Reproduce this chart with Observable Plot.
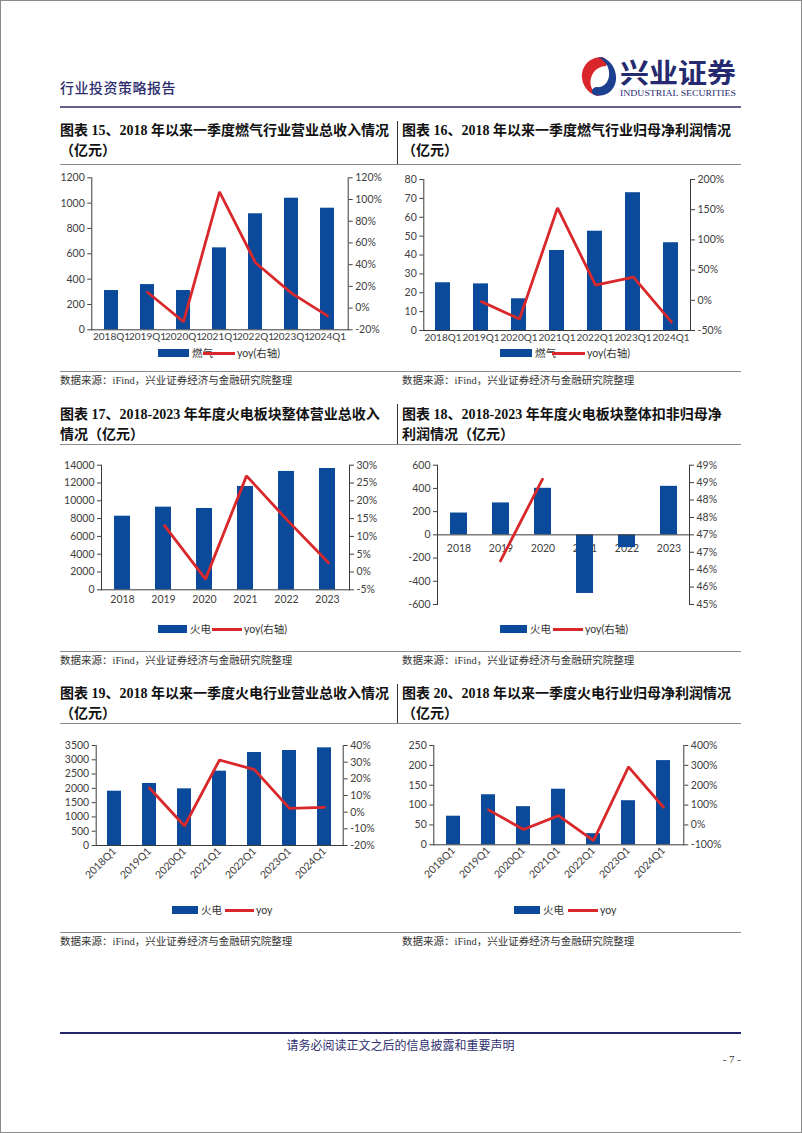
<!DOCTYPE html>
<html><head><meta charset="utf-8">
<script src="https://cdn.jsdelivr.net/npm/d3@7"></script>
<script src="https://cdn.jsdelivr.net/npm/@observablehq/plot@0.6"></script>
<style>
html,body{margin:0;padding:0;background:#fff;}
#page{position:relative;width:802px;height:1133px;overflow:hidden;font-family:"Noto Sans CJK SC",sans-serif;}
#border{position:absolute;left:0;top:0;width:802px;height:1133px;box-sizing:border-box;border:1px solid #8a8a8a;pointer-events:none;}
.hline{position:absolute;height:0;border-top:1px solid #8c8c8c;}
.vline{position:absolute;width:0;border-left:1px solid #333;}
.title{position:absolute;font-family:"Liberation Serif","Noto Sans CJK SC",serif;font-weight:700;font-size:14px;line-height:20px;color:#111;white-space:nowrap;}
.src{position:absolute;font-family:"Liberation Serif","Noto Sans CJK SC",serif;font-size:10.5px;line-height:14px;color:#333;white-space:nowrap;}
.chart{position:absolute;}
.chart svg{position:absolute;left:0;top:0;}
.lg{position:absolute;font-family:Lato,"Noto Sans CJK SC",sans-serif;font-size:10.5px;line-height:12px;color:#333;white-space:nowrap;}
.lgbar{position:absolute;height:8px;}
.lgline{position:absolute;height:3px;}
</style>
</head><body>
<div id="page"></div>
<script>
// ---------- data ----------
const quarters = ["2018Q1","2019Q1","2020Q1","2021Q1","2022Q1","2023Q1","2024Q1"];
const years = ["2018","2019","2020","2021","2022","2023"];

const gasRevenue = [310, 357, 310, 647, 916, 1039, 960];
const gasRevenueYoy = [null, 14.6, -12.6, 107, 41.8, 13.8, -7.2];

const gasProfit = [25.3, 24.7, 16.8, 42.4, 52.6, 73.0, 46.5];
const gasProfitYoy = [null, -2.2, -31, 153, 25, 38.5, -36];

const thermalRevenue = [8270, 9285, 9140, 11610, 13300, 13630];
const thermalRevenueYoy = [null, 13.0, -2.0, 27.0, 14.5, 2.6];

const thermalProfitAdj = [188, 275, 401, -505, -110, 418];
const thermalProfitAdjYoy = [null, 46.25, 48.6, null, null, null];

const thermalQRevenue = [1900, 2170, 1983, 2602, 3255, 3325, 3418];
const thermalQRevenueYoy = [null, 14.5, -8.3, 31.3, 25.5, 2.3, 2.9];

const thermalQProfit = [72, 126, 96, 140, 28, 111, 212];
const thermalQProfitYoy = [null, 76, -23, 47, -79, 292, 89];

const titles = [
  ["图表 15、2018 年以来一季度燃气行业营业总收入情况", "（亿元）"],
  ["图表 16、2018 年以来一季度燃气行业归母净利润情况", "（亿元）"],
  ["图表 17、2018-2023 年年度火电板块整体营业总收入", "情况（亿元）"],
  ["图表 18、2018-2023 年年度火电板块整体扣非归母净", "利润情况（亿元）"],
  ["图表 19、2018 年以来一季度火电行业营业总收入情况", "（亿元）"],
  ["图表 20、2018 年以来一季度火电行业归母净利润情况", "（亿元）"]
];
const sourceText = "数据来源：iFind，兴业证券经济与金融研究院整理";
const headerText = "行业投资策略报告";
const footerText = "请务必阅读正文之后的信息披露和重要声明";
const pageNo = "- 7 -";

// ---------- styles ----------
const BLUE = "#0b4a9a", RED = "#d8282b", AXIS = "#3a3a3a", TXT = "#404040";
const page = document.getElementById("page");

function el(tag, cls, css, html) {
  const e = document.createElement(tag);
  if (cls) e.className = cls;
  if (css) e.style.cssText = css;
  if (html != null) e.innerHTML = html;
  page.appendChild(e);
  return e;
}

// ---------- header ----------
el("div", null, "position:absolute;left:60px;top:78px;font-size:14px;line-height:18px;color:#2e2e6e;font-weight:500;letter-spacing:0.5px;", headerText);
el("div", null, "position:absolute;left:578px;top:52px;width:170px;height:50px;",
 `<svg width="170" height="50" xmlns="http://www.w3.org/2000/svg">
   <path d="M24 5 C10 5 3 16 4 26 C5 36 13 44 22 44 C14 40 11 33 13 26 C15 18 22 14 28 14 C30 10 28 6 24 5 Z" fill="#d8262b"/>
   <path d="M16 43 C30 46 39 36 38 24 C37 12 28 5 20 5 C28 9 32 16 31 24 C30 32 24 36 18 35 C14 36 12 40 16 43 Z" fill="#1d3f8f"/>
   <text x="42" y="31" font-family="'Noto Sans CJK SC',serif" font-weight="700" font-size="27" fill="#262a6e" textLength="116" lengthAdjust="spacingAndGlyphs">兴业证券</text>
   <text x="42" y="44" font-family="'Liberation Serif',serif" font-size="8" fill="#262a6e" textLength="116" lengthAdjust="spacingAndGlyphs">INDUSTRIAL SECURITIES</text>
 </svg>`);
el("div", null, "position:absolute;left:60px;top:106px;width:681px;height:2px;background:#62628a;");

// ---------- frame lines / titles / sources ----------
const rows = [
  {titleTop:121, titleLine:164, sepTop:121, srcLine:371, srcTop:374},
  {titleTop:405, titleLine:444, sepTop:404, srcLine:651, srcTop:654},
  {titleTop:684, titleLine:723, sepTop:684, srcLine:932, srcTop:935}
];
rows.forEach((r, i) => {
  el("div", "title", `left:60px;top:${r.titleTop}px;`, titles[2*i][0] + "<br>" + titles[2*i][1]);
  el("div", "title", `left:402px;top:${r.titleTop}px;`, titles[2*i+1][0] + "<br>" + titles[2*i+1][1]);
  el("div", "vline", `left:397px;top:${r.sepTop}px;height:${r.titleLine - r.sepTop}px;`);
  el("div", "hline", `left:60px;top:${r.titleLine}px;width:681px;`);
  el("div", "hline", `left:60px;top:${r.srcLine}px;width:681px;`);
  el("div", "src", `left:60px;top:${r.srcTop}px;`, sourceText);
  el("div", "src", `left:402px;top:${r.srcTop}px;`, sourceText);
});

// ---------- footer ----------
el("div", null, "position:absolute;left:60px;top:1032px;width:681px;height:2px;background:#24246a;");
el("div", null, "position:absolute;left:60px;width:681px;top:1038px;text-align:center;font-family:'Liberation Serif','Noto Sans CJK SC',serif;font-size:12px;line-height:16px;color:#2e2e6e;", footerText);
el("div", null, "position:absolute;left:700px;width:41px;top:1052px;text-align:right;font-family:'Liberation Serif',serif;font-size:11px;line-height:14px;color:#333;", pageNo);
el("div", null, "", "").id = "border";

// ---------- charts ----------
function range(a, b, s) { const r = []; for (let v = a; v <= b + 1e-9; v += s) r.push(+v.toFixed(4)); return r; }

function dualChart(cfg) {
  const {x0, y0, w, h, frame} = cfg;
  const m = {marginLeft: frame[0] - x0, marginTop: frame[1] - y0, marginRight: x0 + w - frame[2], marginBottom: y0 + h - frame[3]};
  const data = cfg.cats.map((c, i) => ({cat: c, v: cfg.bars[i], yoy: cfg.yoy[i] == null ? NaN : cfg.yoy[i]}));
  const style = {background: "transparent", overflow: "visible", fontFamily: "Lato, 'DejaVu Sans', sans-serif", fontSize: "10.5px", color: TXT};
  const box = el("div", "chart", `left:${x0}px;top:${y0}px;width:${w}px;height:${h}px;`);

  const barMarks = [];
  if (cfg.zeroLabels) barMarks.push(Plot.text(data, {x: "cat", y: () => 0, text: "cat", dy: 14, fill: TXT}));
  barMarks.push(Plot.barY(data, {x: "cat", y: "v", fill: BLUE}));
  barMarks.push(Plot.axisY({anchor: "left", label: null, ticks: cfg.leftTicks, tickFormat: d => String(d), tickSize: 4, tickPadding: 3}));
  if (cfg.zeroLabels) {
    barMarks.push(Plot.ruleY([0], {stroke: AXIS}));
  } else {
    barMarks.push(Plot.axisX({anchor: "bottom", label: null, tickSize: 0, tickPadding: cfg.rotate ? 4 : (cfg.xPad || 6), tickRotate: cfg.rotate ? -45 : 0, fontSize: cfg.xFont || undefined}));
    barMarks.push(Plot.frame({anchor: "bottom", stroke: AXIS}));
  }
  barMarks.push(Plot.frame({anchor: "left", stroke: AXIS}));

  const bars = Plot.plot({
    width: w, height: h, ...m, style,
    x: {type: "band", domain: cfg.cats, paddingInner: 0.6, paddingOuter: 0.3, axis: cfg.zeroLabels ? null : undefined, label: null},
    y: {domain: cfg.leftDomain, label: null},
    marks: barMarks
  });
  box.appendChild(bars);

  const line = Plot.plot({
    width: w, height: h, ...m, style,
    x: {type: "point", domain: cfg.cats, padding: 0.5, axis: null, label: null},
    y: {domain: cfg.rightDomain, label: null},
    marks: [
      Plot.line(data, {x: "cat", y: "yoy", stroke: RED, strokeWidth: 2.8, strokeLinejoin: "miter"}),
      Plot.axisY({anchor: "right", label: null, ticks: cfg.rightTicks, tickFormat: cfg.rightFormat || (d => d + "%"), tickSize: 4, tickPadding: 3}),
      Plot.frame({anchor: "right", stroke: AXIS})
    ]
  });
  box.appendChild(line);

  // legend
  const L = cfg.legend;
  el("div", "lgbar", `left:${L.barX}px;top:${L.y - 4}px;width:${L.barW}px;background:${BLUE};`);
  el("div", "lg", `left:${L.barX + L.barW + 3}px;top:${L.y - 6}px;`, cfg.barLabel);
  el("div", "lgline", `left:${L.lineX}px;top:${L.y - 1.5}px;width:${L.lineW}px;background:${RED};`);
  el("div", "lg", `left:${L.lineX + L.lineW + 2}px;top:${L.y - 6}px;`, cfg.lineLabel);
}

dualChart({x0: 50, y0: 165, w: 350, h: 190, frame: [91.3, 177.3, 347.7, 329.3],
  cats: quarters, bars: gasRevenue, yoy: gasRevenueYoy, xPad: 3, xFont: 10,
  leftDomain: [0, 1200], leftTicks: range(0, 1200, 200),
  rightDomain: [-20, 120], rightTicks: range(-20, 120, 20),
  barLabel: "燃气", lineLabel: "yoy(右轴)",
  legend: {y: 353, barX: 158, barW: 31, lineX: 203, lineW: 32}});

dualChart({x0: 400, y0: 165, w: 350, h: 190, frame: [423.3, 179, 690, 330],
  cats: quarters, bars: gasProfit, yoy: gasProfitYoy, xPad: 3, xFont: 10,
  leftDomain: [0, 80], leftTicks: range(0, 80, 10),
  rightDomain: [-50, 200], rightTicks: range(-50, 200, 50),
  barLabel: "燃气", lineLabel: "yoy(右轴)",
  legend: {y: 353, barX: 500, barW: 32, lineX: 552, lineW: 33}});

dualChart({x0: 50, y0: 450, w: 350, h: 170, frame: [101, 464.7, 349, 589.3],
  cats: years, bars: thermalRevenue, yoy: thermalRevenueYoy,
  leftDomain: [0, 14000], leftTicks: range(0, 14000, 2000),
  rightDomain: [-5, 30], rightTicks: range(-5, 30, 5),
  barLabel: "火电", lineLabel: "yoy(右轴)",
  legend: {y: 629, barX: 158, barW: 29, lineX: 212, lineW: 30}});

dualChart({x0: 400, y0: 450, w: 350, h: 170, frame: [437, 464.7, 689, 604],
  cats: years, bars: thermalProfitAdj, yoy: thermalProfitAdjYoy, zeroLabels: true,
  leftDomain: [-600, 600], leftTicks: range(-600, 600, 200),
  rightDomain: [45, 49], rightTicks: range(45, 49, 0.5), rightFormat: d => Math.round(d) + "%",
  barLabel: "火电", lineLabel: "yoy(右轴)",
  legend: {y: 629, barX: 500, barW: 27, lineX: 553, lineW: 30}});

dualChart({x0: 50, y0: 730, w: 350, h: 170, frame: [95.7, 745, 342.7, 845],
  cats: quarters, bars: thermalQRevenue, yoy: thermalQRevenueYoy, rotate: true,
  leftDomain: [0, 3500], leftTicks: range(0, 3500, 500),
  rightDomain: [-20, 40], rightTicks: range(-20, 40, 10),
  barLabel: "火电", lineLabel: "yoy",
  legend: {y: 910, barX: 172, barW: 26, lineX: 225, lineW: 29}});

dualChart({x0: 400, y0: 730, w: 350, h: 170, frame: [433.3, 745, 683.3, 844.3],
  cats: quarters, bars: thermalQProfit, yoy: thermalQProfitYoy, rotate: true,
  leftDomain: [0, 250], leftTicks: range(0, 250, 50),
  rightDomain: [-100, 400], rightTicks: range(-100, 400, 100),
  barLabel: "火电", lineLabel: "yoy",
  legend: {y: 910, barX: 514, barW: 26, lineX: 568, lineW: 30}});

page.appendChild(document.getElementById("border"));
</script>
</body></html>
